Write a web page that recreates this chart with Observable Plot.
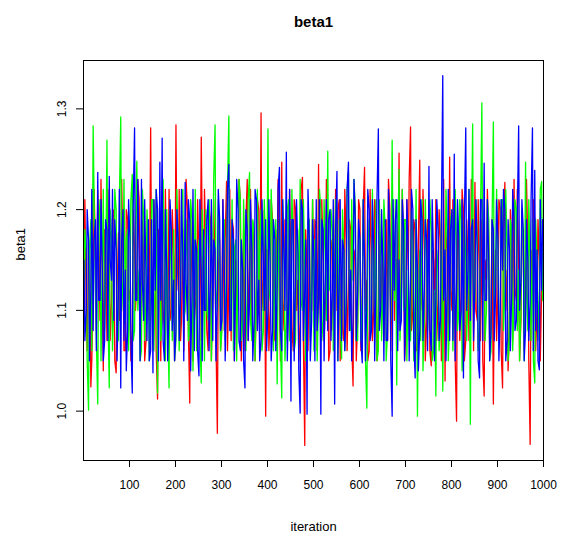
<!DOCTYPE html>
<html>
<head>
<meta charset="utf-8">
<script src="https://cdn.jsdelivr.net/npm/d3@7"></script>
<script src="https://cdn.jsdelivr.net/npm/@observablehq/plot@0.6"></script>
<style>
  body { margin: 0; background: white; }
</style>
</head>
<body>
<div id="chart"></div>
<script>
// Sampled iterations: set A at 1,6,11,...,996 and set B at 3,8,13,...,998
const iterationsA = d3.range(1, 1000, 5);
const iterationsB = d3.range(3, 1000, 5);

// chain 1 (red)
const chain1A = [
1.14,1.10,1.17,1.024,1.12,1.16,1.219,1.09,1.13,1.18,
1.07,1.15,1.11,1.20,1.038,1.177,1.10,1.14,1.06,1.19,
1.12,1.08,1.16,1.13,1.21,1.09,1.15,1.07,1.17,1.281,
1.11,1.16,1.012,1.14,1.19,1.08,1.13,1.22,1.10,1.15,
1.284,1.12,1.07,1.18,1.14,1.20,1.008,1.13,1.17,1.09,
1.15,1.272,1.10,1.16,1.06,1.19,1.12,1.14,0.978,1.17,
1.11,1.08,1.228,1.13,1.07,1.18,1.15,1.10,1.21,1.12,
1.06,1.23,1.14,1.09,1.17,1.11,1.20,1.296,1.13,0.995,
1.16,1.10,1.19,1.07,1.14,1.12,1.247,1.08,1.18,1.11,
1.15,1.06,1.20,1.13,1.09,1.232,0.966,1.14,1.17,1.10,
1.12,1.18,1.245,1.08,1.15,1.11,1.19,1.06,1.16,1.13,
1.10,1.21,1.14,1.07,1.17,1.12,1.18,1.025,1.15,1.09,
1.20,1.11,1.242,1.13,1.06,1.16,1.10,1.19,1.08,1.14,
1.17,1.12,1.07,1.20,1.13,1.09,1.15,1.256,1.11,1.16,
1.08,1.14,1.282,1.10,1.18,1.06,1.249,1.12,1.16,1.09,
1.19,1.045,1.15,1.21,1.11,1.17,1.13,1.03,1.18,1.252,
1.10,1.14,0.99,1.16,1.12,1.20,1.07,1.15,1.11,1.18,
1.227,1.09,1.14,1.19,1.015,1.13,1.17,1.10,1.007,1.16,
1.12,1.20,1.023,1.227,1.14,1.08,1.17,1.23,1.11,1.15,
1.09,1.18,1.13,1.16,0.967,1.12,1.19,1.10,1.15,1.12
];
const chain1B = [
1.21,1.06,1.15,1.05,1.22,1.08,1.18,1.23,1.04,1.16,
1.22,1.07,1.19,1.05,1.12,1.09,1.23,1.06,1.20,1.11,
1.05,1.20,1.10,1.23,1.07,1.19,1.05,1.17,1.09,1.14,
1.21,1.06,1.18,1.05,1.10,1.22,1.07,1.09,1.20,1.05,
1.16,1.22,1.09,1.06,1.23,1.08,1.19,1.05,1.11,1.21,
1.07,1.18,1.22,1.08,1.20,1.05,1.21,1.07,1.14,1.06,
1.21,1.17,1.06,1.22,1.19,1.05,1.10,1.23,1.05,1.18,
1.19,1.07,1.22,1.18,1.05,1.21,1.08,1.10,1.20,1.16,
1.06,1.21,1.08,1.18,1.23,1.05,1.11,1.19,1.07,1.22,
1.08,1.21,1.10,1.05,1.22,1.07,1.18,1.06,1.10,1.21,
1.19,1.06,1.12,1.21,1.07,1.23,1.05,1.17,1.08,1.22,
1.20,1.05,1.08,1.22,1.06,1.19,1.07,1.16,1.05,1.21,
1.06,1.20,1.10,1.05,1.22,1.07,1.21,1.05,1.18,1.09,
1.07,1.19,1.23,1.06,1.20,1.15,1.08,1.11,1.22,1.05,
1.21,1.23,1.08,1.19,1.06,1.17,1.10,1.22,1.05,1.19,
1.06,1.16,1.09,1.07,1.20,1.05,1.23,1.16,1.07,1.12,
1.21,1.05,1.18,1.07,1.22,1.05,1.19,1.07,1.23,1.06,
1.10,1.21,1.07,1.05,1.15,1.22,1.06,1.19,1.11,1.07,
1.21,1.06,1.18,1.10,1.04,1.20,1.07,1.12,1.22,1.05,
1.18,1.06,1.23,1.05,1.16,1.21,1.06,1.19,1.05,1.16
];

// chain 2 (green)
const chain2A = [
1.10,1.16,1.001,1.19,1.283,1.12,1.007,1.21,1.14,1.08,
1.269,1.023,1.17,1.11,1.20,1.07,1.292,1.13,1.09,1.18,
1.12,1.235,1.08,1.248,1.14,1.06,1.19,1.11,1.16,1.10,
1.21,1.13,1.018,1.17,1.09,1.15,1.20,1.023,1.14,1.18,
1.07,1.16,1.12,1.22,1.10,1.15,1.08,1.19,1.13,1.06,
1.17,1.028,1.14,1.20,1.09,1.16,1.12,1.284,1.10,1.15,
1.08,1.19,1.13,1.293,1.11,1.06,1.17,1.14,1.21,1.09,
1.15,1.12,1.237,1.07,1.18,1.13,1.10,1.20,1.08,1.16,
1.28,1.11,1.17,1.14,1.027,1.19,1.013,1.15,1.09,1.21,
1.12,1.16,1.07,1.18,1.23,1.10,1.14,1.08,1.19,1.13,
1.06,1.17,1.11,1.20,1.09,1.15,1.258,1.12,1.18,1.10,
1.14,1.19,1.052,1.16,1.12,1.238,1.08,1.13,1.20,1.07,
1.17,1.11,1.15,1.003,1.19,1.09,1.14,1.21,1.06,1.16,
1.12,1.18,1.08,1.15,1.269,1.11,1.026,1.24,1.13,1.10,
1.19,1.14,1.07,1.17,1.12,0.995,1.16,1.21,1.09,1.15,
1.11,1.18,1.06,1.015,1.14,1.08,1.02,1.12,1.17,1.09,
1.20,1.13,1.16,1.10,1.19,1.07,1.15,1.12,0.987,1.285,
1.11,1.17,1.08,1.306,1.14,1.10,1.19,1.06,1.287,1.13,
1.16,1.09,1.21,1.12,1.15,1.07,1.18,1.11,1.20,1.14,
1.10,1.17,1.247,1.08,1.14,1.19,1.028,1.15,1.12,1.228
];
const chain2B = [
1.18,1.05,1.16,1.06,1.21,1.07,1.18,1.05,1.22,1.12,
1.10,1.20,1.06,1.22,1.07,1.21,1.10,1.23,1.17,1.06,
1.21,1.07,1.18,1.10,1.05,1.22,1.07,1.20,1.05,1.21,
1.06,1.22,1.12,1.07,1.23,1.05,1.09,1.20,1.07,1.05,
1.22,1.06,1.21,1.09,1.19,1.07,1.21,1.04,1.22,1.15,
1.07,1.20,1.05,1.10,1.21,1.05,1.23,1.12,1.21,1.06,
1.19,1.07,1.22,1.10,1.21,1.16,1.05,1.23,1.07,1.21,
1.06,1.21,1.09,1.19,1.05,1.22,1.17,1.06,1.21,1.08,
1.12,1.22,1.06,1.19,1.13,1.07,1.21,1.05,1.20,1.07,
1.22,1.06,1.18,1.09,1.11,1.21,1.05,1.19,1.07,1.21,
1.17,1.05,1.22,1.07,1.21,1.09,1.12,1.20,1.06,1.21,
1.05,1.09,1.20,1.06,1.22,1.10,1.21,1.23,1.07,1.18,
1.07,1.21,1.05,1.16,1.08,1.22,1.09,1.05,1.21,1.07,
1.21,1.05,1.19,1.09,1.15,1.21,1.17,1.07,1.22,1.19,
1.05,1.07,1.20,1.05,1.22,1.10,1.07,1.04,1.21,1.08,
1.21,1.05,1.12,1.16,1.06,1.20,1.11,1.22,1.05,1.19,
1.06,1.22,1.08,1.21,1.04,1.19,1.07,1.22,1.16,1.10,
1.21,1.06,1.19,1.12,1.07,1.21,1.05,1.18,1.10,1.22,
1.07,1.21,1.08,1.22,1.05,1.19,1.06,1.21,1.08,1.05,
1.20,1.05,1.12,1.21,1.07,1.05,1.19,1.07,1.22,1.11
];

// chain 3 (blue)
const chain3A = [
1.15,1.10,1.17,1.12,1.08,1.19,1.237,1.11,1.14,1.07,
1.18,1.233,1.13,1.09,1.16,1.12,1.023,1.20,1.14,1.08,
1.17,1.018,1.281,1.11,1.15,1.23,1.09,1.13,1.19,1.06,
1.038,1.12,1.20,1.247,1.271,1.05,1.14,1.10,1.18,1.13,
1.08,1.17,1.11,1.15,1.227,1.09,1.19,1.12,1.06,1.16,
1.035,1.14,1.18,1.10,1.21,1.13,1.07,1.16,1.11,1.19,
1.09,1.15,1.12,1.245,1.08,1.17,1.13,1.20,1.06,1.14,
1.023,1.18,1.11,1.16,1.09,1.21,1.13,1.07,1.15,1.19,
1.10,1.14,1.08,1.17,1.12,1.242,1.06,1.15,1.257,1.11,
1.01,1.19,1.13,1.16,0.998,1.20,1.12,0.997,1.17,1.09,
1.15,1.21,1.11,0.997,1.18,1.14,1.08,1.20,1.12,1.007,
1.238,1.13,1.07,1.16,1.10,1.247,1.14,1.09,1.19,1.12,
1.17,1.048,1.15,1.11,1.20,1.08,1.16,1.13,1.28,1.10,
1.14,1.19,1.07,1.17,0.995,1.12,1.21,1.15,1.09,1.18,
1.11,1.16,1.13,1.20,1.033,1.14,1.08,1.19,1.12,1.17,
1.243,1.06,1.15,1.11,1.18,1.09,1.333,1.16,1.13,1.07,
1.20,1.255,1.12,1.17,1.10,1.033,1.281,1.14,1.09,1.19,
1.13,1.16,1.033,1.21,1.246,1.11,1.15,1.08,1.18,1.12,
1.17,1.10,1.14,1.20,1.07,1.16,1.12,1.19,1.09,1.283,
1.13,1.18,1.08,1.15,1.11,1.281,1.239,1.16,1.041,1.12
];
const chain3B = [
1.07,1.20,1.05,1.22,1.17,1.06,1.11,1.21,1.05,1.19,
1.07,1.15,1.22,1.19,1.05,1.22,1.17,1.07,1.04,1.21,
1.07,1.20,1.11,1.23,1.05,1.13,1.21,1.07,1.05,1.19,
1.21,1.22,1.05,1.11,1.07,1.20,1.05,1.21,1.08,1.05,
1.20,1.07,1.22,1.05,1.13,1.21,1.04,1.22,1.17,1.06,
1.21,1.05,1.10,1.19,1.06,1.21,1.17,1.05,1.22,1.08,
1.21,1.05,1.22,1.08,1.19,1.05,1.23,1.07,1.17,1.05,
1.20,1.07,1.21,1.05,1.22,1.08,1.05,1.21,1.10,1.06,
1.21,1.05,1.19,1.06,1.22,1.08,1.21,1.10,1.05,1.22,
1.19,1.05,1.21,1.04,1.21,1.07,1.17,1.22,1.05,1.19,
1.05,1.08,1.21,1.19,1.05,1.21,1.19,1.07,1.21,1.18,
1.05,1.21,1.17,1.06,1.22,1.08,1.05,1.23,1.07,1.19,
1.07,1.21,1.05,1.22,1.07,1.21,1.05,1.21,1.08,1.20,
1.05,1.07,1.22,1.05,1.21,1.19,1.06,1.08,1.21,1.05,
1.21,1.05,1.22,1.07,1.19,1.04,1.21,1.07,1.19,1.06,
1.08,1.21,1.05,1.21,1.07,1.19,1.11,1.05,1.22,1.18,
1.07,1.05,1.21,1.08,1.21,1.19,1.10,1.22,1.18,1.07,
1.21,1.05,1.21,1.07,1.11,1.21,1.05,1.19,1.07,1.21,
1.05,1.21,1.22,1.05,1.19,1.06,1.22,1.08,1.19,1.10,
1.21,1.05,1.19,1.07,1.21,1.06,1.08,1.05,1.21,1.19
];

const chainNames = ["chain1", "chain2", "chain3"];
const chainColors = ["#FF0000", "#00FF00", "#0000FF"];
const xTicks = [100, 200, 300, 400, 500, 600, 700, 800, 900, 1000];
const yTicks = [1.0, 1.1, 1.2, 1.3];
const titleText = "beta1";
const xLabel = "iteration";
const yLabel = "beta1";

const rows = [];
[[chain1A, chain1B], [chain2A, chain2B], [chain3A, chain3B]].forEach(([a, b], c) => {
  a.forEach((v, i) => rows.push({chain: chainNames[c], iteration: iterationsA[i], value: v}));
  b.forEach((v, i) => rows.push({chain: chainNames[c], iteration: iterationsB[i], value: v}));
});
rows.sort((p, q) => (p.chain === q.chain ? p.iteration - q.iteration : chainNames.indexOf(p.chain) - chainNames.indexOf(q.chain)));

const chart = Plot.plot({
  width: 565,
  height: 543,
  marginLeft: 83,
  marginRight: 22,
  marginTop: 60,
  marginBottom: 83,
  style: {fontFamily: "'Liberation Sans', Arial, sans-serif", fontSize: "12px", background: "white", color: "black"},
  x: {domain: [0, 1000]},
  y: {domain: [0.951, 1.348]},
  color: {domain: chainNames, range: chainColors},
  marks: [
    Plot.line(rows, {x: "iteration", y: "value", z: "chain", stroke: "chain", strokeWidth: 1.3}),
    Plot.frame({stroke: "black", strokeWidth: 1}),
    Plot.axisX({ticks: xTicks, tickSize: 7, tickPadding: 13, label: null, fontSize: 12, tickFormat: d => String(d)}),
    Plot.axisY({ticks: yTicks, tickSize: 7, label: null, tickFormat: () => ""}),
    Plot.text(yTicks, {x: 0, y: d => d, frameAnchor: "left", dx: -21, rotate: -90, text: d => d.toFixed(1), fontSize: 12, textAnchor: "middle", lineAnchor: "middle"}),
    Plot.text([titleText], {frameAnchor: "top", dy: -38, fontWeight: "bold", fontSize: 15, lineAnchor: "middle"}),
    Plot.text([xLabel], {frameAnchor: "bottom", dy: 66, fontSize: 13, lineAnchor: "middle"}),
    Plot.text([yLabel], {frameAnchor: "left", dx: -63, rotate: -90, fontSize: 13, lineAnchor: "middle"})
  ]
});
document.getElementById("chart").appendChild(chart);
</script>
</body>
</html>
